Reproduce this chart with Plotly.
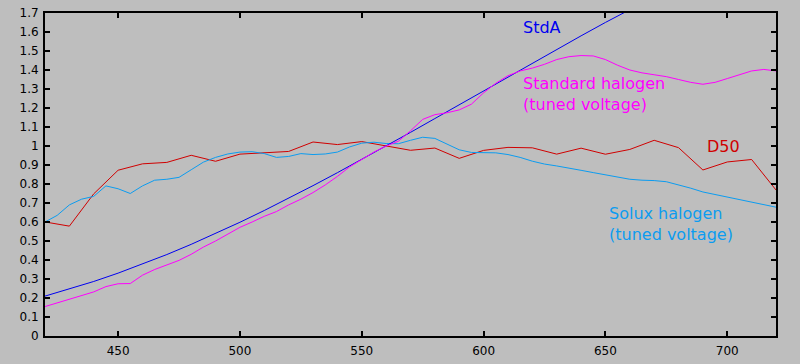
import plotly.graph_objects as go

# Wavelength grids (nm)
wl10 = list(range(420, 721, 10))
wl5 = list(range(420, 721, 5))

# CIE Standard Illuminant A, normalised to 1 at 560 nm
stdA = [0.2099, 0.2467, 0.2870, 0.3309, 0.3781, 0.4287, 0.4824, 0.5391, 0.5986, 0.6606,
        0.7250, 0.7913, 0.8595, 0.9291, 1.0000, 1.0718, 1.1444, 1.2173, 1.2904, 1.3635,
        1.4362, 1.5084, 1.5798, 1.6503, 1.7196, 1.7877, 1.8543, 1.9193, 1.9826, 2.0441,
        2.1036]

# CIE D50, normalised to 1 at 560 nm
d50 = [0.6003, 0.5782, 0.7482, 0.8725, 0.9061, 0.9137, 0.9511, 0.9196, 0.9572, 0.9661,
       0.9713, 1.0210, 1.0075, 1.0232, 1.0000, 0.9774, 0.9892, 0.9350, 0.9769, 0.9927,
       0.9904, 0.9572, 0.9886, 0.9567, 0.9819, 1.0300, 0.9913, 0.8738, 0.9160, 0.9289,
       0.7685]

# Standard halogen (tuned voltage)
std_halogen = [0.155, 0.175, 0.196, 0.212, 0.232, 0.260, 0.275, 0.276, 0.320, 0.350,
               0.372, 0.398, 0.430, 0.468, 0.500, 0.535, 0.572, 0.600, 0.630, 0.655,
               0.690, 0.720, 0.755, 0.795, 0.840, 0.890, 0.930, 0.968, 1.000, 1.025,
               1.080, 1.140, 1.165, 1.175, 1.190, 1.220, 1.280, 1.330, 1.370, 1.395,
               1.410, 1.430, 1.455, 1.470, 1.476, 1.474, 1.455, 1.425, 1.400, 1.385,
               1.375, 1.365, 1.350, 1.335, 1.325, 1.335, 1.355, 1.375, 1.395, 1.403,
               1.395]

# Solux halogen (tuned voltage)
solux = [0.600, 0.635, 0.690, 0.720, 0.735, 0.790, 0.775, 0.750, 0.790, 0.820,
         0.825, 0.835, 0.875, 0.915, 0.940, 0.958, 0.968, 0.970, 0.960, 0.940,
         0.945, 0.960, 0.955, 0.958, 0.968, 0.995, 1.015, 1.020, 1.013, 1.012,
         1.030, 1.046, 1.040, 1.010, 0.980, 0.966, 0.966, 0.964, 0.955, 0.940,
         0.920, 0.905, 0.895, 0.885, 0.872, 0.860, 0.847, 0.835, 0.825, 0.820,
         0.818, 0.812, 0.797, 0.778, 0.758, 0.745, 0.733, 0.720, 0.708, 0.695,
         0.678]

x_ticks = [450, 500, 550, 600, 650, 700]
y_ticks = [round(i * 0.1, 1) for i in range(18)]
y_tick_text = ["0", "0.1", "0.2", "0.3", "0.4", "0.5", "0.6", "0.7", "0.8", "0.9",
               "1", "1.1", "1.2", "1.3", "1.4", "1.5", "1.6", "1.7"]

C_BLUE = "#0000f0"
C_MAG = "#ff00ff"
C_RED = "#d00000"
C_LBLUE = "#0c9cf0"

fig = go.Figure()
fig.add_trace(go.Scatter(x=wl10, y=d50, mode="lines", line=dict(color=C_RED, width=1)))
fig.add_trace(go.Scatter(x=wl5, y=solux, mode="lines", line=dict(color=C_LBLUE, width=1)))
fig.add_trace(go.Scatter(x=wl10, y=stdA, mode="lines", line=dict(color=C_BLUE, width=1)))
fig.add_trace(go.Scatter(x=wl5, y=std_halogen, mode="lines", line=dict(color=C_MAG, width=1)))

lab_font = dict(family="DejaVu Sans", size=16)
annots = [
    dict(x=615.4, y=1.625, text="StdA", color=C_BLUE),
    dict(x=615.4, y=1.275, text="Standard halogen<br>(tuned voltage)", color=C_MAG),
    dict(x=691.0, y=0.995, text="D50", color=C_RED),
    dict(x=650.8, y=0.588, text="Solux halogen<br>(tuned voltage)", color=C_LBLUE),
]
for a in annots:
    fig.add_annotation(x=a["x"], y=a["y"], text=a["text"], showarrow=False,
                       xanchor="left", yanchor="middle", align="left",
                       font=dict(lab_font, color=a["color"]))

axis_common = dict(showline=True, linecolor="black", linewidth=2, mirror="ticks",
                   ticks="inside", ticklen=5, tickwidth=2, tickcolor="black",
                   showgrid=False, zeroline=False,
                   tickfont=dict(family="DejaVu Sans", size=12, color="black"))

fig.update_layout(
    width=800, height=364,
    margin=dict(l=45, r=24, t=6, b=20),
    paper_bgcolor="#bebebe", plot_bgcolor="#bebebe",
    showlegend=False,
    xaxis=dict(axis_common, range=[420, 720], tickvals=x_ticks,
               ticktext=[str(v) for v in x_ticks], ticklabelstandoff=3),
    yaxis=dict(axis_common, range=[0, 1.7], tickvals=y_ticks, ticktext=y_tick_text,
               ticklabelstandoff=2),
)

fig.write_html("out.html", config={"displayModeBar": False},
               post_script="document.body.style.margin='0';document.body.style.background='#bebebe';")
